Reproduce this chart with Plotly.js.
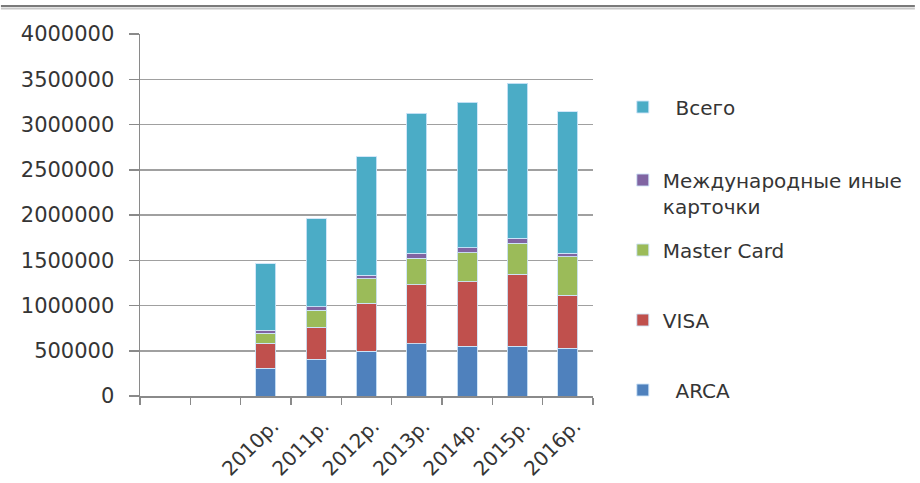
<!DOCTYPE html>
<html>
<head>
<meta charset="utf-8">
<script src="https://cdn.plot.ly/plotly-3.0.1.min.js"></script>
<style>html,body{margin:0;padding:0;background:#fff;}#chart{width:920px;height:483px;}</style>
</head>
<body>
<div id="chart"></div>
<script>
// Category slots: two empty slots before the years (as in the original chart)
const SLOTS = ["_s1", "_s2", "2010р.", "2011р.", "2012р.", "2013р.", "2014р.", "2015р.", "2016р."];
const SLOT_LABELS = ["", "", "2010р.", "2011р.", "2012р.", "2013р.", "2014р.", "2015р.", "2016р."];
const YEARS = ["2010р.", "2011р.", "2012р.", "2013р.", "2014р.", "2015р.", "2016р."];

const ARCA = [305000, 405000, 497000, 575000, 552000, 552000, 527000];
const VISA = [277000, 354000, 527000, 652000, 708000, 796000, 585000];
const MASTER = [111000, 191000, 269000, 294000, 324000, 339000, 428000];
const INTL = [36000, 37000, 44000, 56000, 55000, 55000, 37000];
const TOTAL = [730000, 969000, 1307000, 1547000, 1606000, 1713000, 1565000];

const NAMES = ["\u00A0\u00A0Всего", "Международные иные<br>карточки", "Master Card", "VISA", "\u00A0\u00A0ARCA"];
const COLORS = ["#4BACC6", "#8064A2", "#9BBB59", "#C0504D", "#4F81BD"];

const FONT = "DejaVu Sans, Verdana, sans-serif";
const TXT = "#353535";

function bar(y, i, legendId) {
  return {
    type: "bar", x: YEARS, y: y, name: NAMES[i],
    marker: {color: COLORS[i], line: {color: "rgba(205,228,248,0.9)", width: 1}},
    width: 0.4, legend: legendId, hoverinfo: "y+name"
  };
}

const data = [
  bar(ARCA, 4, "legend5"),
  bar(VISA, 3, "legend4"),
  bar(MASTER, 2, "legend3"),
  bar(INTL, 1, "legend2"),
  bar(TOTAL, 0, "legend")
];

const H = 362; // plot height in px (for paper positions of legends)
function py(p) { return (396 - p) / H; }
const LX = (626 - 140) / 456;
function leg(ypx, extra) {
  return Object.assign({
    x: LX, xanchor: "left", y: py(ypx), yanchor: "middle",
    font: {family: FONT, size: 20, color: TXT},
    bgcolor: "rgba(0,0,0,0)", borderwidth: 0, itemclick: false
  }, extra || {});
}

const layout = {
  width: 920, height: 483,
  margin: {l: 140, r: 324, t: 34, b: 87, pad: 0},
  paper_bgcolor: "#fff", plot_bgcolor: "#fff",
  barmode: "stack",
  font: {family: FONT, size: 20, color: TXT},
  xaxis: {
    type: "category", categoryorder: "array", categoryarray: SLOTS,
    range: [-0.5, 8.5], tickmode: "array", tickvals: SLOTS, ticktext: SLOT_LABELS,
    tickson: "boundaries", ticks: "outside", ticklen: 7, tickcolor: "#8a8a8a", tickwidth: 1.5,
    showline: true, linecolor: "#8a8a8a", linewidth: 1.5, showgrid: false,
    tickangle: -45, ticklabelstandoff: 9, ticklabelshift: 7,
    tickfont: {family: FONT, size: 20, color: TXT}, fixedrange: true
  },
  yaxis: {
    range: [0, 4000000], tickmode: "linear", tick0: 0, dtick: 500000, tickformat: "d",
    ticks: "outside", ticklen: 10, tickcolor: "#8a8a8a", tickwidth: 1.5,
    showline: true, linecolor: "#8a8a8a", linewidth: 1.5,
    showgrid: true, gridcolor: "#a0a0a0", gridwidth: 1.5, zeroline: false,
    ticklabelstandoff: 10,
    tickfont: {family: FONT, size: 21, color: TXT}, fixedrange: true
  },
  legend: leg(107),
  legend2: leg(193, {valign: "top"}),
  legend3: leg(250),
  legend4: leg(320),
  legend5: leg(390),
  shapes: [
    {type: "line", xref: "paper", yref: "paper", x0: -140/456, x1: 780/456,
     y0: py(6), y1: py(6), line: {color: "#7a7a7a", width: 2}},
    {type: "line", xref: "paper", yref: "paper", x0: -140/456, x1: 780/456,
     y0: py(8.5), y1: py(8.5), line: {color: "#c8c8c8", width: 2}}
  ],
  showlegend: true
};

Plotly.newPlot("chart", data, layout, {displayModeBar: false, staticPlot: true});
</script>
</body>
</html>
